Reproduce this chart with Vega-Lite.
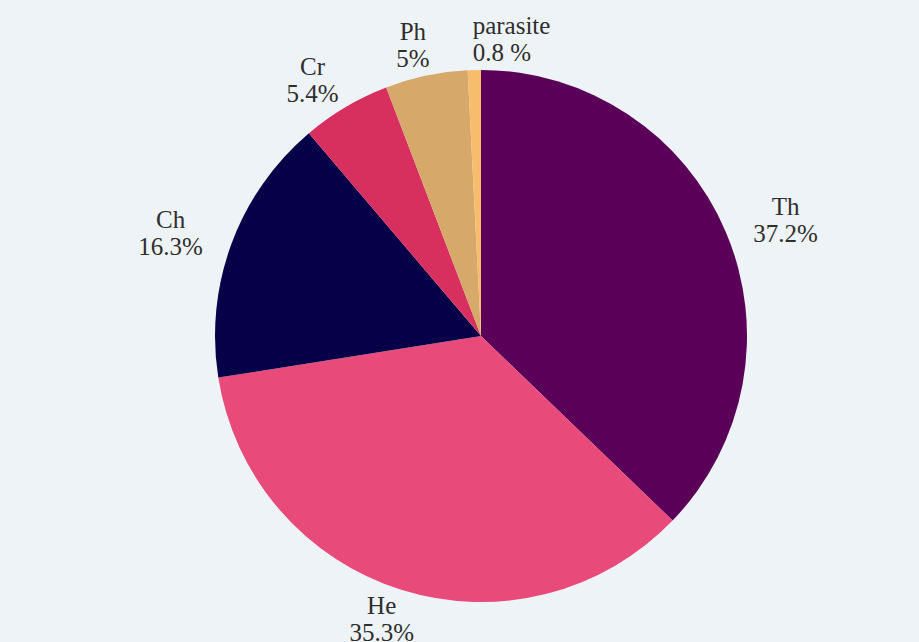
{
  "$schema": "https://vega.github.io/schema/vega-lite/v6.json",
  "width": 876,
  "height": 612,
  "padding": {"left": 43, "top": 30, "right": 0, "bottom": 0},
  "autosize": {"type": "none"},
  "background": "#eef3f7",
  "config": {"view": {"stroke": null}},
  "data": {
    "values": [
      {"category": "Th", "pct": 37.2, "label": ["Th", "37.2%"]},
      {"category": "He", "pct": 35.3, "label": ["He", "35.3%"]},
      {"category": "Ch", "pct": 16.3, "label": ["Ch", "16.3%"]},
      {"category": "Cr", "pct": 5.4, "label": ["Cr", "5.4%"]},
      {"category": "Ph", "pct": 5.0, "label": ["Ph", "5%"]},
      {"category": "parasite", "pct": 0.8, "label": ["parasite", "0.8 %"]}
    ]
  },
  "encoding": {
    "theta": {"field": "pct", "type": "quantitative", "stack": true},
    "color": {
      "field": "category",
      "type": "nominal",
      "sort": ["Th", "He", "Ch", "Cr", "Ph", "parasite"],
      "scale": {
        "domain": ["Th", "He", "Ch", "Cr", "Ph", "parasite"],
        "range": ["#5a0058", "#e84a7a", "#060048", "#d8305e", "#d6a86a", "#f7bc6c"]
      },
      "legend": null
    },
    "order": {"field": "pct", "sort": "descending"}
  },
  "layer": [
    {"mark": {"type": "arc", "outerRadius": 266}},
    {
      "mark": {
        "type": "text",
        "radius": 297,
        "font": "Liberation Serif",
        "fontSize": 25,
        "lineHeight": 27,
        "baseline": "middle",
        "dy": -13,
        "align": {"expr": "datum.category === 'parasite' ? 'left' : 'center'"},
        "dx": {"expr": "34 * sin(PI * (datum.pct_start + datum.pct_end) / 100)"}
      },
      "encoding": {
        "text": {"field": "label"},
        "color": {"value": "#2e2e2e"}
      }
    }
  ]
}
